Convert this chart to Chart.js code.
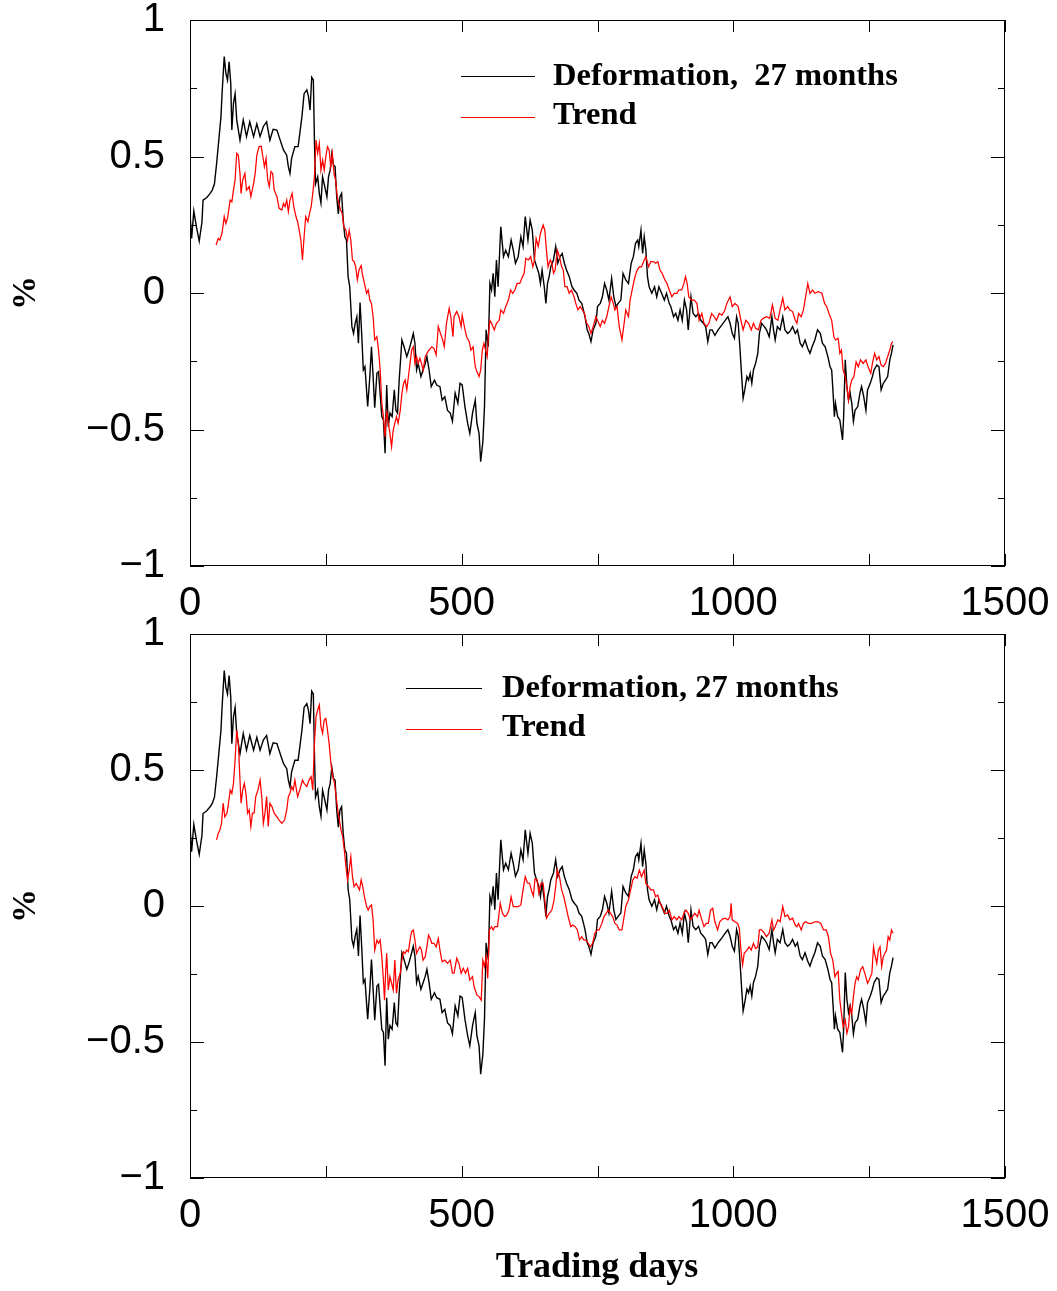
<!DOCTYPE html>
<html><head><meta charset="utf-8">
<script src="https://cdn.jsdelivr.net/npm/chart.js@4"></script>
<style>
html,body{margin:0;padding:0;background:#fff;overflow:hidden;}
#wrap{position:relative;width:1057px;height:1291px;}
canvas{position:absolute;left:0;}
</style></head><body>
<div id="wrap">
<canvas id="c1" width="1057" height="640" style="top:-20px"></canvas>
<canvas id="c2" width="1057" height="691" style="top:600px"></canvas>
</div>
<script>
// [trading day, % deformation]
const deformation = [[0,0.29],[3,0.20],[7,0.30],[12,0.24],[17,0.19],[22,0.26],[24,0.34],[31,0.35],[37,0.365],[41,0.377],[45,0.40],[49,0.475],[53,0.56],[57,0.646],[59,0.73],[63,0.866],[66,0.805],[69,0.78],[72,0.847],[75,0.768],[77,0.597],[80,0.695],[83,0.73],[86,0.634],[89,0.597],[92,0.56],[98,0.634],[104,0.573],[110,0.627],[117,0.573],[123,0.62],[129,0.573],[135,0.61],[141,0.627],[147,0.56],[153,0.60],[160,0.597],[166,0.56],[172,0.524],[178,0.505],[181,0.463],[184,0.438],[187,0.493],[193,0.536],[199,0.536],[206,0.646],[210,0.73],[215,0.744],[218,0.72],[221,0.67],[224,0.79],[227,0.78],[229,0.56],[231,0.40],[235,0.426],[238,0.365],[241,0.33],[244,0.426],[248,0.39],[252,0.353],[255,0.426],[258,0.45],[261,0.51],[264,0.469],[267,0.463],[270,0.353],[273,0.29],[276,0.353],[279,0.365],[282,0.267],[285,0.206],[288,0.194],[291,0.06],[294,0.023],[298,-0.123],[301,-0.148],[304,-0.111],[307,-0.087],[310,-0.184],[313,-0.035],[316,-0.15],[319,-0.282],[322,-0.27],[327,-0.416],[331,-0.306],[334,-0.197],[337,-0.306],[340,-0.42],[344,-0.294],[347,-0.288],[353,-0.453],[356,-0.465],[359,-0.587],[362,-0.337],[365,-0.49],[368,-0.44],[372,-0.453],[376,-0.355],[379,-0.43],[382,-0.44],[385,-0.319],[390,-0.172],[394,-0.197],[399,-0.233],[403,-0.209],[408,-0.172],[411,-0.148],[414,-0.184],[417,-0.282],[420,-0.258],[425,-0.306],[429,-0.282],[433,-0.258],[436,-0.233],[440,-0.282],[444,-0.343],[450,-0.319],[454,-0.337],[460,-0.343],[464,-0.392],[469,-0.38],[474,-0.43],[479,-0.44],[483,-0.47],[488,-0.367],[493,-0.404],[497,-0.331],[501,-0.337],[506,-0.416],[511,-0.477],[515,-0.514],[520,-0.44],[525,-0.392],[528,-0.477],[532,-0.514],[535,-0.618],[539,-0.545],[542,-0.416],[545,-0.135],[549,-0.197],[552,0.035],[555,0.011],[558,0.072],[561,-0.014],[564,0.121],[567,0.023],[572,0.243],[577,0.133],[581,0.157],[586,0.133],[591,0.194],[595,0.157],[599,0.109],[604,0.133],[609,0.206],[613,0.17],[617,0.28],[622,0.194],[626,0.267],[630,0.23],[634,0.121],[638,0.096],[642,0.072],[645,0.035],[648,0.084],[652,0.023],[655,-0.038],[658,0.035],[661,0.06],[664,0.096],[669,0.121],[673,0.17],[677,0.109],[681,0.133],[685,0.145],[689,0.109],[693,0.084],[698,0.06],[703,0.023],[707,0.011],[712,-0.001],[716,-0.026],[721,-0.038],[724,-0.062],[727,-0.087],[731,-0.135],[734,-0.148],[738,-0.178],[742,-0.135],[747,-0.111],[750,-0.05],[755,-0.038],[759,-0.014],[763,0.035],[767,0.011],[771,-0.026],[776,0.054],[780,-0.014],[784,-0.05],[788,-0.038],[793,-0.026],[797,0.072],[802,0.048],[807,0.035],[812,0.109],[816,0.133],[820,0.182],[824,0.194],[826,0.17],[830,0.23],[833,0.145],[836,0.206],[839,0.157],[842,0.06],[845,0.023],[850,-0.001],[855,0.023],[859,-0.014],[863,0.023],[868,-0.001],[873,-0.026],[877,-0.001],[882,-0.038],[885,-0.05],[890,-0.087],[894,-0.075],[898,-0.1],[902,-0.062],[906,-0.1],[910,-0.026],[914,-0.062],[917,-0.135],[922,-0.014],[926,-0.075],[931,-0.087],[936,-0.075],[940,-0.1],[945,-0.111],[949,-0.123],[953,-0.178],[957,-0.135],[961,-0.135],[966,-0.155],[972,-0.135],[979,-0.117],[985,-0.1],[990,-0.087],[994,-0.111],[998,-0.148],[1002,-0.166],[1006,-0.087],[1009,-0.111],[1012,-0.197],[1015,-0.294],[1018,-0.386],[1021,-0.355],[1025,-0.306],[1028,-0.319],[1031,-0.294],[1034,-0.331],[1037,-0.282],[1041,-0.258],[1045,-0.221],[1048,-0.148],[1052,-0.111],[1057,-0.123],[1061,-0.135],[1066,-0.16],[1071,-0.087],[1074,-0.135],[1077,-0.172],[1081,-0.123],[1086,-0.135],[1091,-0.087],[1095,-0.135],[1100,-0.148],[1104,-0.141],[1109,-0.123],[1114,-0.148],[1118,-0.135],[1123,-0.184],[1127,-0.197],[1132,-0.172],[1137,-0.203],[1141,-0.221],[1145,-0.197],[1150,-0.172],[1155,-0.135],[1160,-0.148],[1164,-0.184],[1169,-0.197],[1174,-0.233],[1178,-0.27],[1181,-0.282],[1184,-0.38],[1186,-0.453],[1188,-0.404],[1192,-0.453],[1196,-0.465],[1201,-0.538],[1203,-0.453],[1206,-0.245],[1209,-0.343],[1212,-0.392],[1215,-0.367],[1218,-0.404],[1221,-0.47],[1224,-0.43],[1229,-0.416],[1233,-0.367],[1236,-0.343],[1240,-0.38],[1244,-0.43],[1247,-0.355],[1252,-0.331],[1256,-0.306],[1259,-0.282],[1264,-0.264],[1268,-0.27],[1272,-0.355],[1276,-0.331],[1280,-0.319],[1284,-0.306],[1288,-0.245],[1291,-0.221],[1294,-0.19]];

const trendTop = [[48,0.176],[52,0.2],[55,0.194],[59,0.219],[63,0.28],[66,0.255],[69,0.273],[74,0.34],[77,0.334],[80,0.377],[83,0.414],[86,0.512],[89,0.505],[92,0.438],[94,0.365],[97,0.414],[101,0.438],[104,0.377],[109,0.39],[112,0.353],[117,0.4],[120,0.438],[123,0.505],[127,0.536],[131,0.538],[134,0.5],[137,0.463],[140,0.493],[143,0.414],[146,0.39],[149,0.445],[152,0.438],[155,0.377],[160,0.353],[164,0.31],[169,0.304],[172,0.328],[175,0.316],[178,0.34],[181,0.298],[184,0.34],[188,0.365],[191,0.316],[195,0.28],[198,0.261],[201,0.23],[204,0.194],[207,0.121],[210,0.206],[213,0.28],[217,0.261],[220,0.292],[223,0.316],[226,0.365],[229,0.426],[232,0.56],[235,0.512],[238,0.548],[241,0.45],[244,0.487],[247,0.45],[250,0.5],[253,0.536],[256,0.524],[259,0.463],[262,0.512],[265,0.438],[268,0.414],[271,0.353],[274,0.328],[277,0.304],[280,0.292],[283,0.243],[287,0.23],[290,0.194],[293,0.23],[296,0.194],[299,0.121],[302,0.115],[305,0.096],[308,0.048],[311,0.084],[315,0.1],[317,0.072],[321,0.035],[325,-0.001],[328,0.011],[331,-0.026],[334,-0.038],[337,-0.087],[340,-0.172],[344,-0.16],[347,-0.209],[350,-0.282],[353,-0.404],[356,-0.453],[359,-0.526],[362,-0.43],[365,-0.477],[368,-0.514],[371,-0.563],[374,-0.502],[377,-0.477],[380,-0.453],[383,-0.477],[387,-0.43],[390,-0.367],[393,-0.331],[396,-0.319],[399,-0.355],[402,-0.306],[405,-0.258],[408,-0.209],[411,-0.197],[414,-0.258],[417,-0.233],[420,-0.258],[423,-0.239],[426,-0.258],[429,-0.282],[433,-0.233],[436,-0.221],[440,-0.209],[445,-0.197],[449,-0.203],[453,-0.227],[457,-0.123],[461,-0.148],[465,-0.172],[468,-0.197],[472,-0.111],[477,-0.056],[480,-0.087],[484,-0.16],[486,-0.087],[491,-0.068],[495,-0.087],[499,-0.123],[501,-0.081],[505,-0.123],[509,-0.16],[514,-0.178],[517,-0.209],[521,-0.197],[525,-0.27],[528,-0.288],[532,-0.306],[535,-0.282],[538,-0.209],[541,-0.184],[544,-0.209],[547,-0.233],[549,-0.16],[552,-0.1],[555,-0.111],[560,-0.135],[564,-0.111],[569,-0.1],[572,-0.062],[577,-0.075],[581,-0.05],[586,-0.026],[590,0.011],[594,-0.001],[598,0.011],[602,0.035],[607,0.035],[612,0.06],[615,0.072],[618,0.127],[623,0.121],[627,0.133],[631,0.096],[634,0.12],[637,0.2],[641,0.17],[645,0.219],[650,0.249],[653,0.23],[656,0.157],[659,0.096],[663,0.121],[666,0.109],[669,0.072],[672,0.084],[676,0.157],[680,0.133],[684,0.096],[687,0.084],[690,0.023],[694,0.023],[698,-0.001],[702,0.011],[707,-0.014],[710,-0.038],[714,-0.062],[718,-0.05],[722,-0.062],[726,-0.075],[730,-0.111],[734,-0.123],[738,-0.148],[742,-0.123],[747,-0.087],[750,-0.1],[755,-0.123],[759,-0.1],[763,-0.111],[767,-0.087],[771,-0.05],[775,-0.014],[779,-0.038],[782,-0.062],[786,-0.05],[790,-0.123],[795,-0.172],[799,-0.111],[802,-0.062],[807,-0.087],[810,-0.026],[815,0.023],[819,0.06],[823,0.084],[827,0.096],[831,0.096],[836,0.121],[839,0.133],[844,0.096],[848,0.115],[853,0.115],[857,0.109],[861,0.115],[865,0.084],[869,0.072],[874,0.048],[878,0.035],[882,0.011],[887,-0.014],[891,-0.001],[896,-0.001],[900,0.011],[905,0.011],[909,0.035],[912,0.06],[915,0.035],[918,-0.014],[923,-0.026],[928,-0.026],[933,-0.038],[937,-0.1],[942,-0.075],[946,-0.111],[951,-0.123],[955,-0.111],[960,-0.075],[965,-0.087],[969,-0.1],[974,-0.075],[979,-0.081],[984,-0.065],[988,-0.038],[994,-0.014],[998,-0.05],[1003,-0.038],[1009,-0.05],[1014,-0.1],[1018,-0.135],[1023,-0.1],[1028,-0.111],[1033,-0.135],[1037,-0.111],[1041,-0.129],[1046,-0.135],[1051,-0.1],[1055,-0.093],[1061,-0.087],[1067,-0.093],[1072,-0.044],[1077,-0.093],[1082,-0.1],[1086,-0.062],[1091,-0.019],[1095,-0.062],[1100,-0.05],[1104,-0.062],[1109,-0.068],[1114,-0.1],[1117,-0.111],[1120,-0.075],[1125,-0.087],[1129,-0.062],[1133,-0.014],[1137,0.035],[1141,-0.001],[1146,0.011],[1150,-0.001],[1156,0.005],[1163,-0.001],[1168,-0.038],[1172,-0.05],[1176,-0.075],[1181,-0.1],[1185,-0.16],[1188,-0.172],[1193,-0.166],[1196,-0.221],[1199,-0.209],[1202,-0.282],[1206,-0.306],[1209,-0.343],[1212,-0.392],[1215,-0.343],[1218,-0.319],[1222,-0.306],[1226,-0.252],[1230,-0.27],[1234,-0.245],[1239,-0.258],[1244,-0.245],[1248,-0.27],[1253,-0.294],[1256,-0.258],[1260,-0.221],[1264,-0.245],[1268,-0.233],[1272,-0.264],[1276,-0.27],[1280,-0.258],[1284,-0.233],[1288,-0.209],[1291,-0.184],[1294,-0.178]];

const trendBottom = [[49,0.243],[52,0.267],[55,0.279],[58,0.304],[61,0.378],[64,0.328],[68,0.341],[70,0.365],[74,0.426],[77,0.414],[80,0.451],[83,0.537],[86,0.647],[89,0.598],[92,0.463],[94,0.378],[97,0.426],[100,0.451],[103,0.414],[106,0.341],[109,0.353],[112,0.292],[115,0.341],[118,0.341],[121,0.402],[125,0.426],[129,0.463],[132,0.402],[135,0.304],[138,0.341],[141,0.402],[144,0.292],[147,0.378],[151,0.365],[155,0.341],[160,0.328],[164,0.316],[169,0.304],[174,0.316],[178,0.353],[181,0.402],[184,0.414],[187,0.439],[190,0.426],[193,0.463],[198,0.402],[202,0.426],[207,0.463],[210,0.451],[215,0.439],[219,0.463],[223,0.475],[226,0.426],[229,0.598],[232,0.696],[235,0.721],[238,0.739],[241,0.659],[244,0.635],[247,0.684],[250,0.69],[253,0.647],[256,0.598],[260,0.512],[263,0.475],[266,0.451],[269,0.402],[272,0.353],[275,0.316],[278,0.279],[281,0.255],[284,0.206],[287,0.145],[290,0.096],[293,0.132],[296,0.181],[299,0.108],[302,0.071],[306,0.083],[309,0.071],[312,0.059],[315,0.096],[318,0.071],[321,0.034],[325,-0.002],[328,-0.015],[331,-0.002],[334,0.004],[337,-0.051],[340,-0.162],[344,-0.125],[347,-0.137],[350,-0.125],[353,-0.186],[356,-0.272],[358,-0.346],[360,-0.247],[362,-0.174],[365,-0.309],[368,-0.26],[371,-0.284],[374,-0.309],[377,-0.199],[380,-0.321],[383,-0.272],[387,-0.247],[390,-0.199],[393,-0.168],[396,-0.174],[399,-0.162],[402,-0.168],[405,-0.125],[408,-0.094],[411,-0.088],[414,-0.125],[417,-0.174],[420,-0.162],[423,-0.15],[426,-0.162],[429,-0.199],[433,-0.186],[436,-0.15],[439,-0.107],[442,-0.119],[445,-0.137],[449,-0.137],[453,-0.15],[457,-0.119],[460,-0.162],[464,-0.205],[469,-0.199],[474,-0.211],[479,-0.199],[483,-0.247],[486,-0.247],[491,-0.192],[495,-0.211],[499,-0.247],[503,-0.229],[507,-0.247],[511,-0.229],[515,-0.272],[520,-0.26],[523,-0.297],[528,-0.327],[532,-0.333],[536,-0.346],[539,-0.199],[542,-0.223],[545,-0.186],[548,-0.266],[551,-0.088],[555,-0.076],[558,-0.088],[561,-0.076],[566,-0.076],[571,0.01],[575,-0.027],[579,-0.039],[583,-0.033],[587,-0.015],[591,0.034],[595,-0.002],[599,-0.002],[604,-0.002],[609,0.004],[612,0.047],[617,0.108],[621,0.085],[625,0.083],[629,0.053],[632,0.037],[635,0.1],[639,0.096],[642,0.047],[646,0.083],[650,0.083],[653,0.022],[656,-0.045],[661,-0.027],[666,-0.015],[670,0.022],[673,0.071],[676,0.132],[680,0.108],[684,0.059],[688,0.034],[692,-0.002],[696,-0.039],[701,-0.076],[704,-0.07],[709,-0.076],[713,-0.088],[717,-0.125],[721,-0.113],[725,-0.125],[729,-0.125],[733,-0.137],[737,-0.15],[741,-0.137],[745,-0.1],[750,-0.088],[753,-0.088],[758,-0.064],[762,-0.039],[766,-0.027],[770,-0.015],[774,-0.027],[778,-0.039],[782,-0.064],[786,-0.07],[790,-0.088],[795,-0.088],[799,-0.039],[802,-0.002],[807,0.022],[811,0.059],[815,0.096],[819,0.108],[823,0.102],[827,0.132],[831,0.108],[836,0.132],[839,0.083],[844,0.071],[848,0.059],[853,0.059],[857,0.034],[861,0.04],[865,0.01],[869,-0.002],[874,-0.027],[878,-0.027],[882,-0.015],[887,-0.051],[891,-0.039],[896,-0.051],[900,-0.039],[905,-0.051],[909,-0.027],[913,-0.015],[917,-0.027],[921,-0.051],[925,-0.039],[929,-0.027],[934,-0.039],[937,-0.015],[942,-0.051],[946,-0.076],[950,-0.064],[954,-0.064],[958,-0.015],[962,-0.008],[966,-0.058],[971,-0.088],[975,-0.058],[980,-0.048],[985,-0.045],[990,-0.051],[994,-0.039],[996,0.01],[998,-0.051],[1003,-0.058],[1008,-0.064],[1011,-0.082],[1014,-0.162],[1017,-0.217],[1020,-0.174],[1025,-0.162],[1029,-0.15],[1033,-0.162],[1037,-0.137],[1041,-0.156],[1045,-0.15],[1048,-0.088],[1052,-0.088],[1057,-0.1],[1061,-0.113],[1066,-0.1],[1071,-0.051],[1074,-0.088],[1077,-0.076],[1082,-0.051],[1086,-0.058],[1091,-0.002],[1095,-0.039],[1100,-0.033],[1104,-0.051],[1109,-0.045],[1114,-0.07],[1117,-0.076],[1120,-0.064],[1125,-0.088],[1129,-0.064],[1133,-0.058],[1138,-0.064],[1144,-0.064],[1150,-0.058],[1156,-0.058],[1161,-0.064],[1166,-0.088],[1171,-0.088],[1175,-0.113],[1179,-0.174],[1183,-0.199],[1187,-0.26],[1190,-0.247],[1193,-0.241],[1196,-0.346],[1199,-0.395],[1202,-0.444],[1206,-0.419],[1209,-0.468],[1212,-0.444],[1215,-0.37],[1218,-0.395],[1221,-0.333],[1224,-0.284],[1227,-0.26],[1230,-0.272],[1234,-0.235],[1238,-0.223],[1242,-0.247],[1247,-0.284],[1250,-0.272],[1255,-0.247],[1258,-0.15],[1260,-0.174],[1264,-0.211],[1267,-0.162],[1270,-0.15],[1273,-0.223],[1276,-0.186],[1279,-0.174],[1282,-0.162],[1285,-0.113],[1288,-0.125],[1291,-0.088],[1294,-0.1]];

const xTickLabels = [0, 500, 1000, 1500];
const yTickLabels = [-1, -0.5, 0, 0.5, 1];
const legendTop = ['Deformation,  27 months', 'Trend'];
const legendBottom = ['Deformation, 27 months', 'Trend'];
const yTitle = '%';
const xTitle = 'Trading days';

const toXY = arr => arr.map(p => ({x: p[0], y: p[1]}));
const fmt = v => { const s = String(Math.abs(v)); return v < 0 ? '\u2212' + s : s; };

function framePlugin(cfg) {
  return {
    id: 'frame',
    afterDraw(chart) {
      const {ctx, chartArea: a, scales: {x, y}} = chart;
      ctx.save();
      ctx.strokeStyle = '#000';
      ctx.lineWidth = 1;
      ctx.strokeRect(a.left + 0.5, a.top + 0.5, a.right - a.left - 1, a.bottom - a.top - 1);
      ctx.beginPath();
      y.ticks.forEach(t => {
        const py = Math.round(y.getPixelForValue(t.value)) + 0.5;
        const major = yTickLabels.some(v => Math.abs(v - t.value) < 1e-9);
        const L = major ? 14 : 7;
        ctx.moveTo(a.left, py); ctx.lineTo(a.left + L, py);
        ctx.moveTo(a.right, py); ctx.lineTo(a.right - L, py);
      });
      x.ticks.forEach(t => {
        const px = Math.round(x.getPixelForValue(t.value)) + 0.5;
        const L = 12;
        ctx.moveTo(px, a.bottom); ctx.lineTo(px, a.bottom - L);
        ctx.moveTo(px, a.top); ctx.lineTo(px, a.top + L);
      });
      ctx.stroke();
      // legend
      ctx.font = 'bold 32.5px "Liberation Serif", "Times New Roman", serif';
      ctx.textBaseline = 'middle';
      ctx.textAlign = 'left';
      const L = cfg.legend;
      ctx.lineWidth = 1;
      ctx.strokeStyle = '#000';
      ctx.beginPath(); ctx.moveTo(L.x0, L.y0 + 0.5); ctx.lineTo(L.x1, L.y0 + 0.5); ctx.stroke();
      ctx.strokeStyle = '#ff0000';
      ctx.beginPath(); ctx.moveTo(L.x0, L.y1 + 0.5); ctx.lineTo(L.x1, L.y1 + 0.5); ctx.stroke();
      ctx.fillStyle = '#000';
      ctx.fillText(L.texts[0], L.tx, L.y0 + 1);
      ctx.fillText(L.texts[1], L.tx, L.y1 - 1);
      // y title
      ctx.save();
      ctx.font = 'bold 34px "Liberation Serif", "Times New Roman", serif';
      ctx.translate(26, (a.top + a.bottom) / 2);
      ctx.rotate(-Math.PI / 2);
      ctx.textAlign = 'center';
      ctx.textBaseline = 'middle';
      ctx.fillText(yTitle, 0, 0);
      ctx.restore();
      if (cfg.xTitleY) {
        ctx.font = 'bold 36px "Liberation Serif", "Times New Roman", serif';
        ctx.textAlign = 'center';
        ctx.textBaseline = 'middle';
        ctx.fillText(xTitle, 597, cfg.xTitleY);
      }
      ctx.restore();
    }
  };
}

function makeChart(id, trend, cfg) {
  const tickFont = {family: '"Liberation Sans", Arial, sans-serif', size: 40};
  return new Chart(document.getElementById(id), {
    type: 'line',
    data: {
      datasets: [
        {label: cfg.legend.texts[0], data: toXY(deformation), borderColor: '#000', borderWidth: 1.4, pointRadius: 0, tension: 0, order: 2},
        {label: cfg.legend.texts[1], data: toXY(trend), borderColor: '#ff0000', borderWidth: 1.25, pointRadius: 0, tension: 0, order: 1}
      ]
    },
    options: {
      responsive: false,
      animation: false,
      events: [],
      layout: {padding: {top: cfg.padTop, right: 52, left: 0, bottom: 0}},
      plugins: {legend: {display: false}, tooltip: {enabled: false}},
      scales: {
        x: {
          type: 'linear', min: 0, max: 1500,
          grid: {display: false, drawTicks: false},
          border: {display: false},
          ticks: {
            stepSize: 250, autoSkip: false, maxRotation: 0, padding: 14,
            color: '#000', font: tickFont,
            callback: v => xTickLabels.includes(v) ? fmt(v) : ''
          },
          afterFit: s => { s.height = cfg.xHeight; s.paddingLeft = 0; s.paddingRight = 0; s.paddingTop = 0; s.paddingBottom = 0; }
        },
        y: {
          type: 'linear', min: -1, max: 1,
          grid: {display: false, drawTicks: false},
          border: {display: false},
          ticks: {
            stepSize: 0.25, autoSkip: false, padding: 25,
            color: '#000', font: tickFont,
            callback: v => yTickLabels.some(t => Math.abs(t - v) < 1e-9) ? fmt(v) : ''
          },
          afterFit: s => { s.width = 190; s.paddingLeft = 0; s.paddingRight = 0; s.paddingTop = 0; s.paddingBottom = 0; }
        }
      }
    },
    plugins: [framePlugin(cfg)]
  });
}

makeChart('c1', trendTop, {
  padTop: 40, xHeight: 54,
  legend: {x0: 461, x1: 535, tx: 553, y0: 96, y1: 137, texts: legendTop}
});
makeChart('c2', trendBottom, {
  padTop: 34, xHeight: 113, xTitleY: 668,
  legend: {x0: 406, x1: 482, tx: 502, y0: 88, y1: 129, texts: legendBottom}
});
</script>
</body></html>
